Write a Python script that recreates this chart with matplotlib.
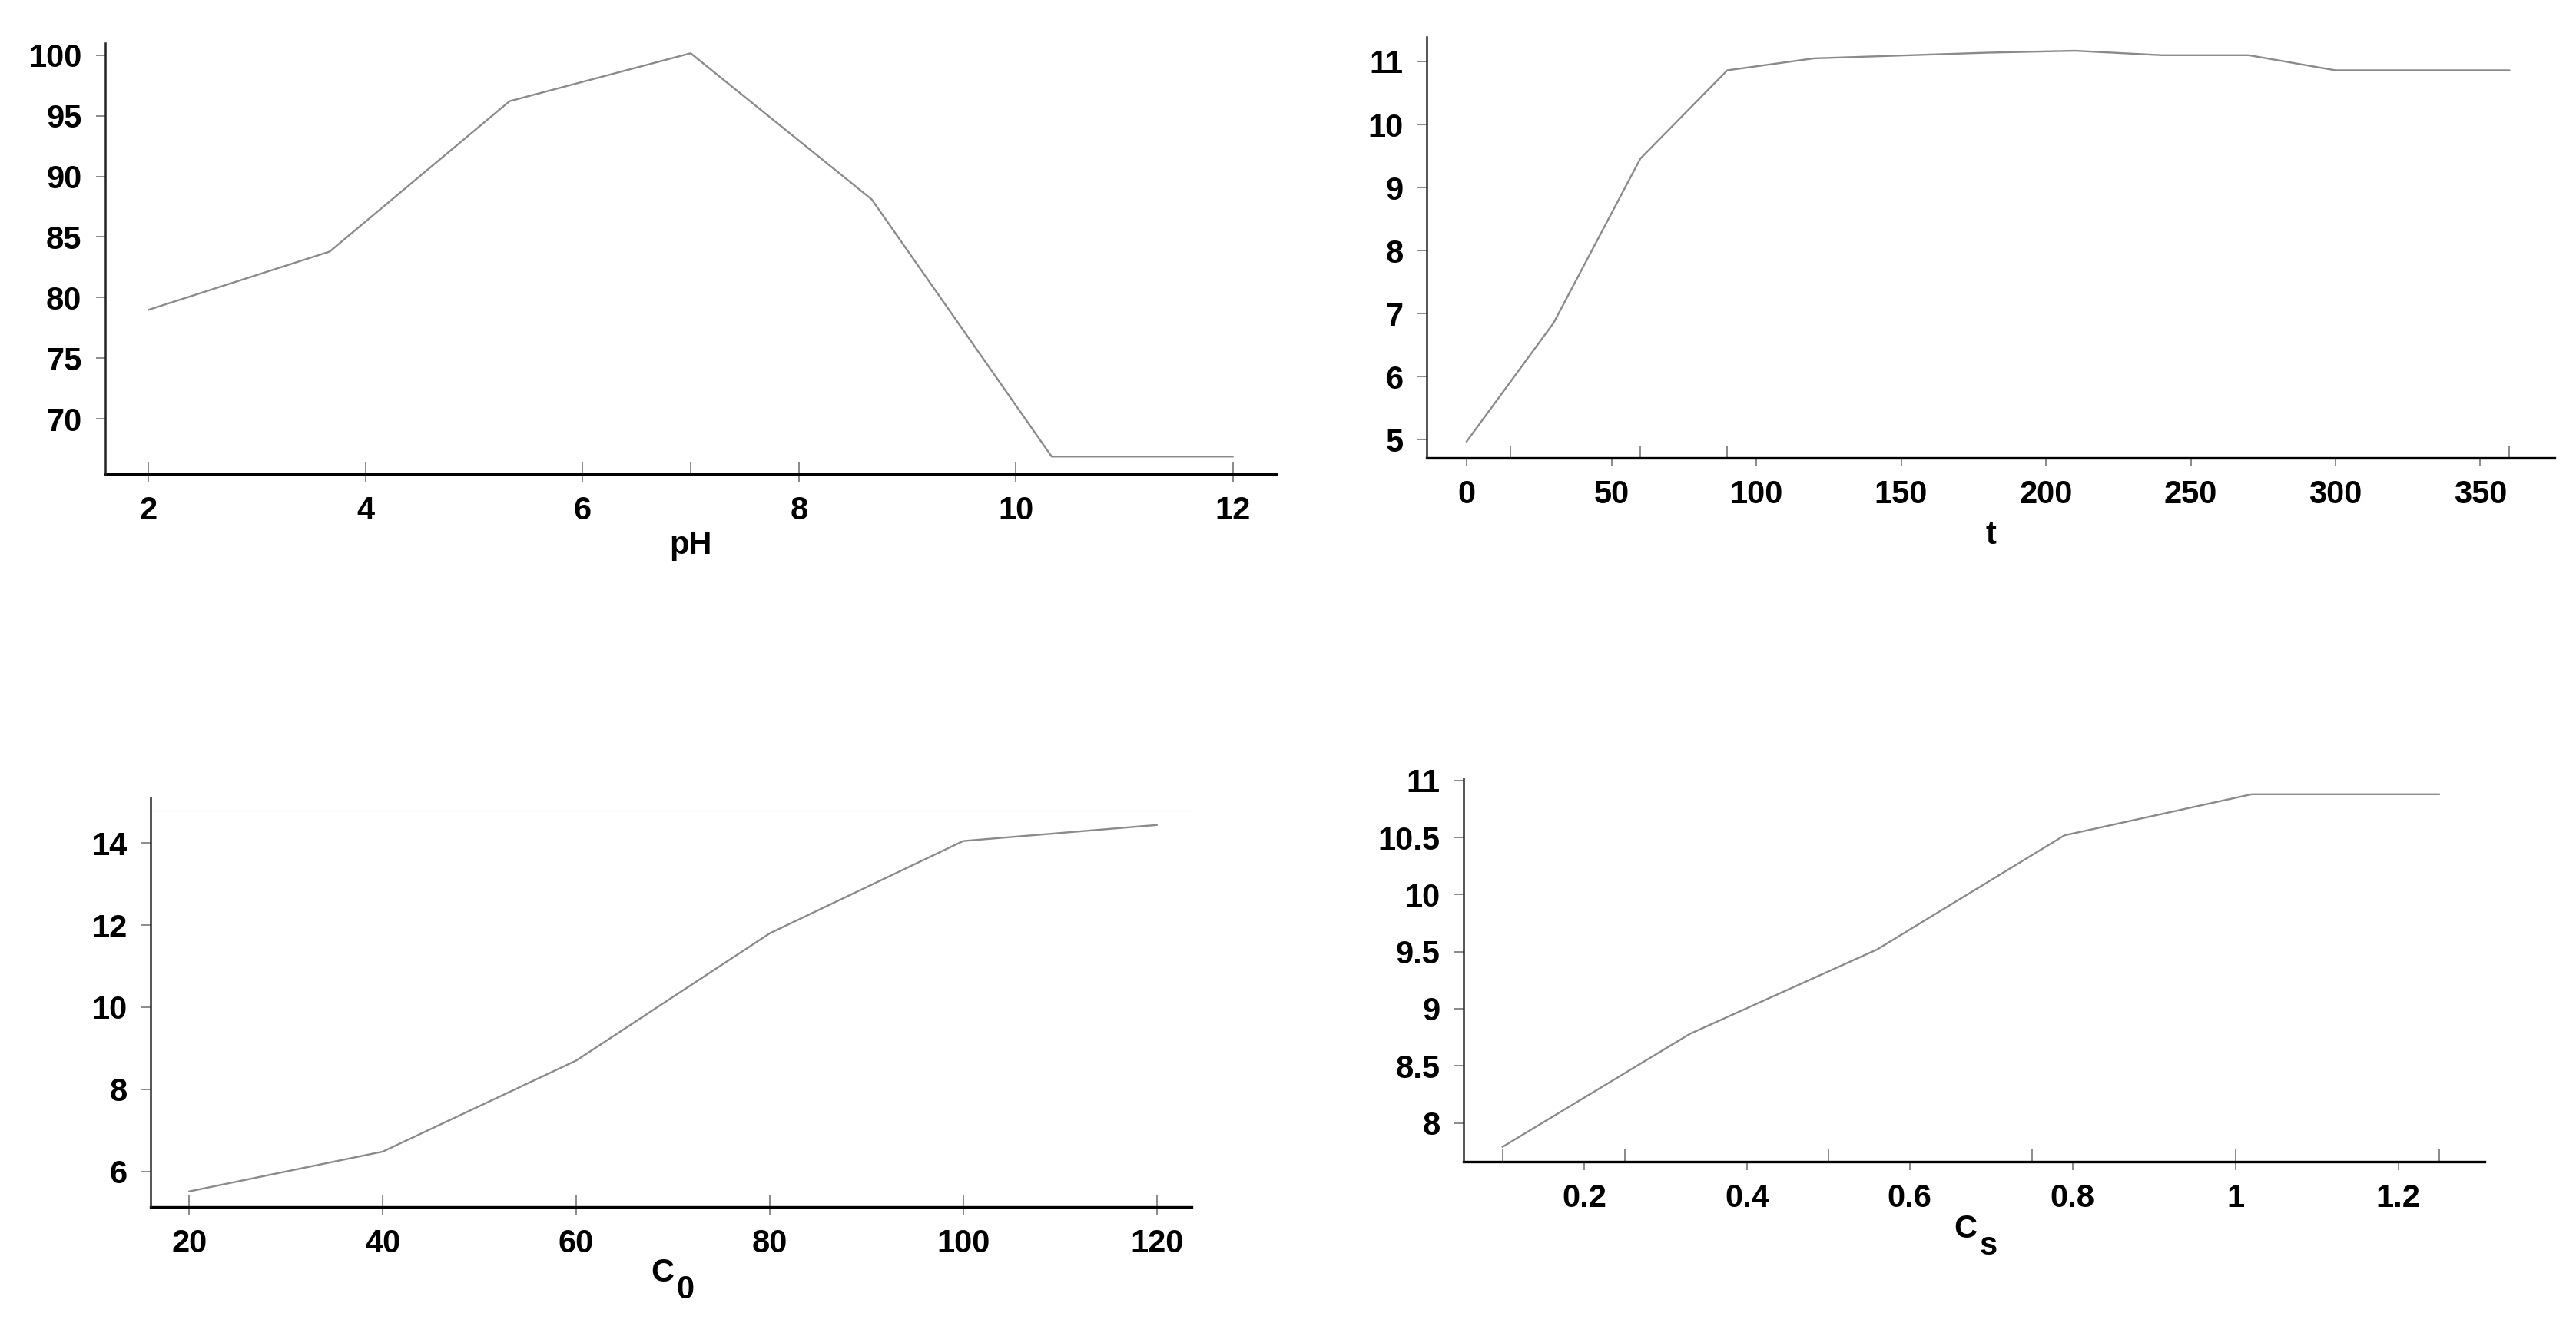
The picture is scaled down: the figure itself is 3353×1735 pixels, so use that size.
import matplotlib
matplotlib.use('Agg')
import matplotlib.pyplot as plt

plt.rcParams['font.family'] = ['Liberation Sans', 'DejaVu Sans']
plt.rcParams['font.weight'] = 'bold'
plt.rcParams['font.size'] = 30

## data
# pH
ph_x = [2, 3.67, 5.33, 7, 8.67, 10.33, 12]
ph_y = [79.0, 83.8, 96.2, 100.15, 88.1, 66.9, 66.9]
ph_xticks = [2, 4, 6, 8, 10, 12]
ph_xmarks = [2, 4, 6, 7, 8, 10, 12]
ph_yticks = [70, 75, 80, 85, 90, 95, 100]

# contact time t
t_x = [0, 30, 60, 90, 120, 180, 210, 240, 270, 300, 360]
t_y = [4.97, 6.85, 9.46, 10.86, 11.05, 11.14, 11.17, 11.1, 11.1, 10.86, 10.86]
t_xticks = [0, 50, 100, 150, 200, 250, 300, 350]
t_xmarks = [15, 60, 90, 360]
t_yticks = [5, 6, 7, 8, 9, 10, 11]

# initial concentration C0
c0_x = [20, 40, 60, 80, 100, 120]
c0_y = [5.51, 6.48, 8.70, 11.8, 14.05, 14.44]
c0_xticks = [20, 40, 60, 80, 100, 120]
c0_yticks = [6, 8, 10, 12, 14]

# sorbent dose Cs
cs_x = [0.1, 0.33, 0.56, 0.79, 1.02, 1.25]
cs_y = [7.79, 8.78, 9.52, 10.52, 10.88, 10.88]
cs_xticks = [0.2, 0.4, 0.6, 0.8, 1.0, 1.2]
cs_xlabels = ['0.2', '0.4', '0.6', '0.8', '1', '1.2']
cs_xmarks = [0.1, 0.25, 0.5, 0.75, 1.0, 1.25]
cs_yticks = [8, 8.5, 9, 9.5, 10, 10.5, 11]
cs_ylabels = ['8', '8.5', '9', '9.5', '10', '10.5', '11']

W, H = 3353, 1735
fig = plt.figure(figsize=(W / 100, H / 100), dpi=100)

GRAY = '#8a8a8a'


def panel(box, x, y, xlim, ylim, xticks, xmarks, yticks, xlabels=None, ylabels=None):
    # box = (left, top, right, bottom) in pixels
    l, t, r, b = box
    ax = fig.add_axes([l / W, 1 - b / H, (r - l) / W, (b - t) / H])
    ax.plot(x, y, color=GRAY, lw=1.7)
    ax.set_xlim(*xlim)
    ax.set_ylim(*ylim)
    ax.spines['top'].set_visible(False)
    ax.spines['right'].set_visible(False)
    ax.spines['bottom'].set_linewidth(2.4)
    ax.spines['bottom'].set_color('black')
    ax.spines['left'].set_linewidth(1.8)
    ax.spines['left'].set_color('#222222')
    ax.spines['left'].set_zorder(3)

    ax.set_xticks(xticks)
    ax.set_xticklabels(xlabels if xlabels else [str(v) for v in xticks])
    ax.set_xticks(xmarks, minor=True)
    ax.xaxis.remove_overlapping_locs = False
    ax.set_yticks(yticks)
    ax.set_yticklabels(ylabels if ylabels else [str(v) for v in yticks])

    ax.tick_params(axis='x', which='major', direction='out', length=8, width=1.4,
                   color=GRAY, pad=12)
    ax.tick_params(axis='x', which='minor', direction='in', length=11.5, width=1.4,
                   color=GRAY)
    ax.tick_params(axis='y', which='major', direction='out', length=9, width=1.4,
                   color=GRAY, pad=13)
    return ax


def xlabel(ax, main, drop, sub=None):
    ax.annotate(main, xy=(0.5, 0), xycoords='axes fraction', xytext=(3 if sub else 0, -drop),
                textcoords='offset points', ha='right' if sub else 'center', va='center')
    if sub:
        ax.annotate(sub, xy=(0.5, 0), xycoords='axes fraction', xytext=(5, -drop - 16),
                    textcoords='offset points', ha='left', va='center')


ax1 = panel((137, 56, 1661, 617), ph_x, ph_y, (1.6, 12.4), (65.46, 100.99),
            ph_xticks, ph_xmarks, ph_yticks)
xlabel(ax1, 'pH', 67)

ax2 = panel((1857, 48, 3325, 596), t_x, t_y, (-13.8, 375.6), (4.71, 11.39),
            t_xticks, t_xmarks, t_yticks)
xlabel(ax2, 't', 73)

ax3 = panel((196, 1038, 1551, 1571), c0_x, c0_y, (16.0, 123.6), (5.13, 15.11),
            c0_xticks, c0_x, c0_yticks)
ax3.axhline(14.79, color='#f5f5f5', lw=1)
xlabel(ax3, 'C', 62, '0')

ax4 = panel((1905, 1013, 3234, 1512), cs_x, cs_y, (0.052, 1.306), (7.66, 11.02),
            cs_xticks, cs_xmarks, cs_yticks, cs_xlabels, cs_ylabels)
xlabel(ax4, 'C', 63, 's')

fig.savefig('out.png', dpi=100, facecolor='white')
